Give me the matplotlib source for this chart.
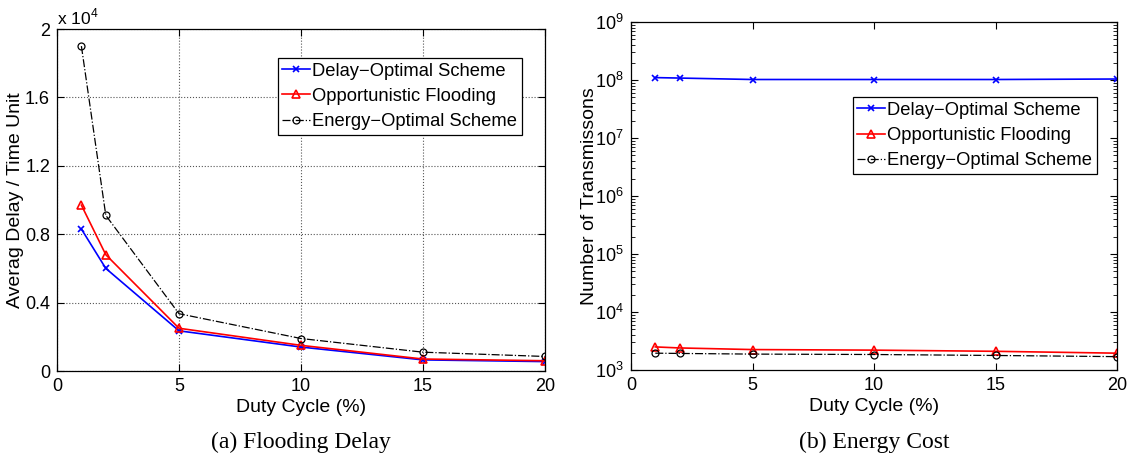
import numpy as np
import matplotlib
matplotlib.use("Agg")
import matplotlib.pyplot as plt
from matplotlib.ticker import LogLocator, NullFormatter

plt.rcParams['font.family'] = ['Liberation Sans', 'DejaVu Sans']
plt.rcParams['mathtext.fontset'] = 'custom'
plt.rcParams['mathtext.rm'] = 'Liberation Sans'

duty = [1, 2, 5, 10, 15, 20]
labels = ['Delay\u2212Optimal Scheme', 'Opportunistic Flooding', 'Energy\u2212Optimal Scheme']

# flooding delay, in units of 1e4
delay_opt = [0.83, 0.60, 0.235, 0.14, 0.065, 0.055]
delay_flood = [0.97, 0.68, 0.25, 0.15, 0.07, 0.06]
delay_energy = [1.90, 0.91, 0.335, 0.19, 0.11, 0.085]

# number of transmissions
tx_opt = [1.1e8, 1.08e8, 1.02e8, 1.02e8, 1.02e8, 1.04e8]
tx_flood = [2500, 2400, 2250, 2200, 2100, 1950]
tx_energy = [1950, 1930, 1880, 1850, 1780, 1700]

fig = plt.figure(figsize=(11.29, 4.55), dpi=100)
W, H = 1129, 455
ax1 = fig.add_axes([57 / W, 1 - 371 / H, (545 - 57) / W, (371 - 29) / H])
ax2 = fig.add_axes([631 / W, 1 - 370 / H, (1117 - 631) / W, (370 - 22) / H])

def style(ax, data):
    ax.plot(duty, data[0], color='blue', marker='x', ms=4, mew=1.2, lw=1.2, label=labels[0])
    ax.plot(duty, data[1], color='red', marker='^', ms=6, mfc='none', mew=1.2, lw=1.2, label=labels[1])
    ax.plot(duty, data[2], color='black', marker='o', ms=5, mfc='none', mew=0.9, lw=0.9,
            ls='-.', label=labels[2])
    ax.set_xlim(0, 20)
    ax.set_xticks([0, 5, 10, 15, 20])
    ax.tick_params(direction='in', top=True, right=True, labelsize=13, length=5, width=0.8, pad=5)
    ax.tick_params(which='minor', direction='in', top=True, right=True, length=3, width=0.6)
    ax.set_xlabel('Duty Cycle (%)', fontsize=14, labelpad=3)
    for s in ax.spines.values():
        s.set_linewidth(0.9)

def legend(ax, x, y):
    leg = ax.legend(loc='upper right', bbox_to_anchor=(x, y), fontsize=13.2,
                    fancybox=False, edgecolor='black', framealpha=1, borderpad=0.25,
                    handlelength=1.5, handletextpad=0.15, labelspacing=0.45, borderaxespad=0)
    leg.get_frame().set_linewidth(0.9)

style(ax1, [delay_opt, delay_flood, delay_energy])
ax1.set_ylim(0, 2)
ax1.set_yticks([0, 0.4, 0.8, 1.2, 1.6, 2])
ax1.set_yticklabels(['0', '0.4', '0.8', '1.2', '1.6', '2'])
ax1.grid(True, ls=':', color='#555555', lw=0.8)
ax1.set_ylabel('Averag Delay / Time Unit', fontsize=14)
ax1.yaxis.set_label_coords(-0.068, 0.5)
ax1.text(0.0, 1.005, 'x 10$^4$', transform=ax1.transAxes, fontsize=12.5, ha='left', va='bottom')
legend(ax1, 0.953, 0.915)

style(ax2, [tx_opt, tx_flood, tx_energy])
ax2.set_yscale('log')
ax2.set_ylim(1e3, 1e9)
ax2.yaxis.set_major_locator(LogLocator(base=10, numticks=10))
ax2.yaxis.set_minor_locator(LogLocator(base=10, subs=np.arange(2, 10), numticks=20))
ax2.yaxis.set_minor_formatter(NullFormatter())
ax2.set_ylabel('Number of Transmissons', fontsize=14)
ax2.yaxis.set_label_coords(-0.068, 0.5)
legend(ax2, 0.959, 0.784)

fig.text(301 / W, 1 - 442 / H, '(a) Flooding Delay', fontsize=17, ha='center', va='center',
         family='Liberation Serif')
fig.text(874 / W, 1 - 442 / H, '(b) Energy Cost', fontsize=17, ha='center', va='center',
         family='Liberation Serif')

fig.savefig('out.png', dpi=100)
